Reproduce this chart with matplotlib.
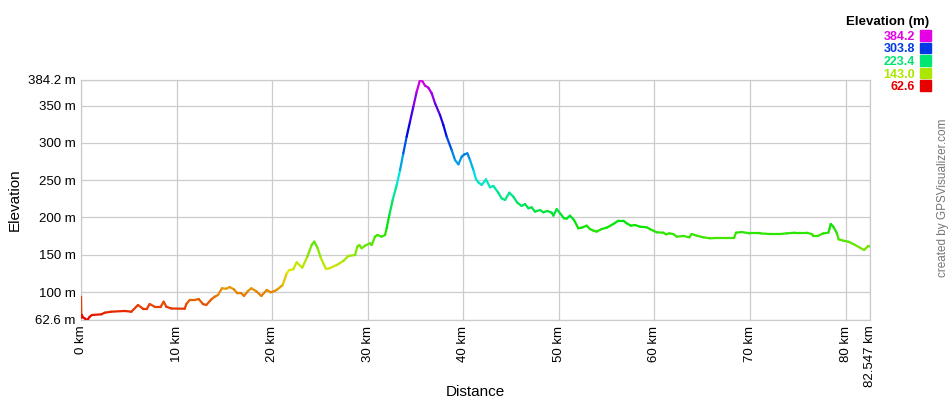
import matplotlib
matplotlib.use("Agg")
import matplotlib.pyplot as plt
import numpy as np
from matplotlib.collections import LineCollection
from matplotlib.colors import hsv_to_rgb

plt.rcParams['font.family'] = ['Liberation Sans', 'DejaVu Sans']

dist_km = [0.0, 0.03, 0.1, 0.21, 0.38, 0.56, 0.75, 0.91, 1.15, 2.13, 2.48, 3.17, 4.57, 5.27, 5.96,
           6.49, 6.9, 7.18, 7.71, 8.34, 8.65, 8.93, 9.45, 10.85, 11.02, 11.37, 11.89, 12.31, 12.76,
           13.11, 13.64, 13.99, 14.33, 14.75, 15.2, 15.55, 16.0, 16.36, 16.78, 17.05, 17.47, 17.82,
           18.34, 18.87, 19.43, 19.84, 20.26, 20.54, 21.1, 21.52, 21.8, 22.21, 22.56, 23.15, 23.68,
           24.13, 24.41, 24.76, 25.08, 25.63, 25.98, 26.75, 27.45, 27.97, 28.67, 28.91, 29.12, 29.37,
           29.71, 30.24, 30.41, 30.76, 31.0, 31.46, 31.81, 31.98, 32.26, 32.61, 33.03, 33.38, 33.72,
           34.07, 34.42, 34.77, 35.12, 35.47, 35.75, 35.99, 36.34, 36.69, 37.04, 37.56, 37.91, 38.26,
           38.78, 39.13, 39.48, 39.83, 40.1, 40.42, 40.7, 41.05, 41.33, 41.57, 41.92, 42.37, 42.79,
           43.14, 43.66, 44.01, 44.36, 44.81, 45.23, 45.65, 46.1, 46.45, 46.8, 47.15, 47.5, 48.02,
           48.37, 48.79, 49.24, 49.42, 49.77, 50.12, 50.53, 50.81, 51.16, 51.58, 52.03, 52.38, 52.91,
           53.25, 53.6, 53.95, 54.47, 55.0, 55.69, 56.22, 56.74, 57.09, 57.51, 57.96, 58.49, 59.18,
           59.71, 60.23, 60.93, 61.2, 61.55, 61.97, 62.32, 63.02, 63.64, 63.89, 64.41, 65.11, 65.81,
           66.51, 67.55, 68.32, 68.53, 69.12, 69.99, 71.04, 72.09, 73.13, 73.83, 74.7, 75.92, 76.45,
           76.62, 77.14, 77.66, 78.19, 78.29, 78.44, 78.71, 79.06, 79.27, 79.76, 80.28, 80.8, 81.5,
           81.92, 82.37, 82.547]
elev_m = [93.8, 66.0, 69.3, 66.0, 64.9, 62.6, 64.0, 67.0, 69.3, 70.2, 72.4, 73.7, 74.7, 73.7, 82.7,
          77.7, 77.7, 84.0, 80.4, 80.4, 87.1, 80.4, 78.0, 77.7, 84.0, 89.4, 89.4, 90.7, 84.0,
          82.7, 90.3, 93.8, 96.1, 105.1, 104.5, 106.8, 103.7, 98.4, 98.4, 94.8, 101.5, 105.1,
          101.1, 94.8, 102.8, 99.7, 101.5, 103.5, 109.5, 125.1, 129.6, 130.5, 139.9, 132.7, 147.5,
          163.1, 167.6, 158.7, 146.1, 130.9, 131.9, 136.3, 141.7, 148.4, 149.7, 160.9, 163.1, 158.7,
          162.2, 165.4, 163.1, 174.3, 176.5, 174.3, 176.5, 185.5, 203.3, 223.4, 243.5, 263.6, 285.9,
          308.2, 328.3, 348.4, 368.5, 384.2, 382.0, 376.6, 373.9, 366.4, 353.0, 337.3, 323.9, 308.2,
          290.4, 277.0, 271.2, 281.5, 284.5, 285.9, 277.0, 263.6, 251.1, 247.1, 243.5, 251.1, 240.4,
          242.2, 233.2, 225.7, 223.4, 233.2, 227.8, 219.8, 215.4, 218.0, 212.3, 213.6, 207.8, 210.0,
          206.9, 208.7, 206.5, 202.4, 211.3, 205.6, 198.9, 198.4, 202.4, 196.6, 185.5, 186.3, 189.0,
          184.5, 182.3, 181.0, 184.5, 186.3, 191.2, 195.7, 195.7, 192.2, 189.0, 189.9, 187.6, 186.8,
          183.2, 180.1, 179.6, 177.4, 178.7, 177.8, 174.3, 175.2, 173.4, 177.8, 175.6, 173.4, 172.1,
          172.5, 172.5, 172.5, 179.6, 180.5, 178.7, 178.7, 177.8, 177.8, 178.7, 179.6, 179.6, 177.8,
          175.6, 175.6, 178.7, 179.6, 184.1, 191.2, 187.6, 179.6, 170.7, 168.9, 167.6, 164.4, 159.5,
          156.4, 161.8, 161.0]

y_ticks = [62.6, 100, 150, 200, 250, 300, 350, 384.2]
y_tick_labels = ["62.6 m", "100 m", "150 m", "200 m", "250 m", "300 m", "350 m", "384.2 m"]
x_ticks = [0, 10, 20, 30, 40, 50, 60, 70, 80, 82.547]
x_tick_labels = ["0 km", "10 km", "20 km", "30 km", "40 km", "50 km", "60 km", "70 km", "80 km", "82.547 km"]
legend_values = [384.2, 303.8, 223.4, 143.0, 62.6]

emin, emax = 62.6, 384.2


def elev_color(e):
    f = (e - emin) / (emax - emin)
    f = min(max(f, 0), 1)
    return hsv_to_rgb([f * 300 / 360, 1.0, 0.9])


fig = plt.figure(figsize=(9.5, 4), dpi=100)
ax = fig.add_axes([81 / 950, 0.2, (870 - 81) / 950, 0.6])

x = np.array(dist_km)
y = np.array(elev_m)
pts = np.column_stack([x, y]).reshape(-1, 1, 2)
segs = np.concatenate([pts[:-1], pts[1:]], axis=1)
cols = [elev_color((y[i] + y[i + 1]) / 2) for i in range(len(y) - 1)]
lc = LineCollection(segs, colors=cols, linewidths=1.6, capstyle='round', joinstyle='round', zorder=3)
ax.add_collection(lc)

ax.set_xlim(0, 82.547)
ax.set_ylim(emin, emax)
ax.set_xticks(x_ticks)
ax.set_xticklabels(x_tick_labels, rotation=90, fontsize=9.5, va='top')
ax.set_yticks(y_ticks)
ax.set_yticklabels(y_tick_labels, fontsize=9.5)
ax.tick_params(length=0, pad=4)
ax.grid(True, color='#cccccc', linewidth=0.9)
for s in ax.spines.values():
    s.set_color('#cccccc')
    s.set_linewidth(0.9)

fig.text(15 / 950, 1 - 200 / 400, "Elevation", rotation=90, fontsize=11, ha='center', va='center')
fig.text(475 / 950, 1 - 392 / 400, "Distance", fontsize=11, ha='center', va='center')

fig.text(929 / 950, 1 - 22 / 400, "Elevation (m)", fontsize=9.5, fontweight='bold', ha='right', va='center')
rows_y = [35.5, 48, 60.5, 73, 85.5]
for v, ry in zip(legend_values, rows_y):
    c = elev_color(v)
    fig.text(915 / 950, 1 - (ry + 4.5) / 400, f"{v:.1f}", fontsize=9, fontweight='bold', color=c,
             ha='right', va='baseline')
    fig.patches.append(plt.Rectangle((920 / 950, 1 - (ry + 5) / 400), 10.5 / 950, 10 / 400,
                                     transform=fig.transFigure, color=c, figure=fig))

fig.text(943 / 950, 1 - 198 / 400, "created by GPSVisualizer.com", rotation=90, fontsize=8.5,
         color='#777777', ha='center', va='center')

fig.savefig("out.png", dpi=100)
